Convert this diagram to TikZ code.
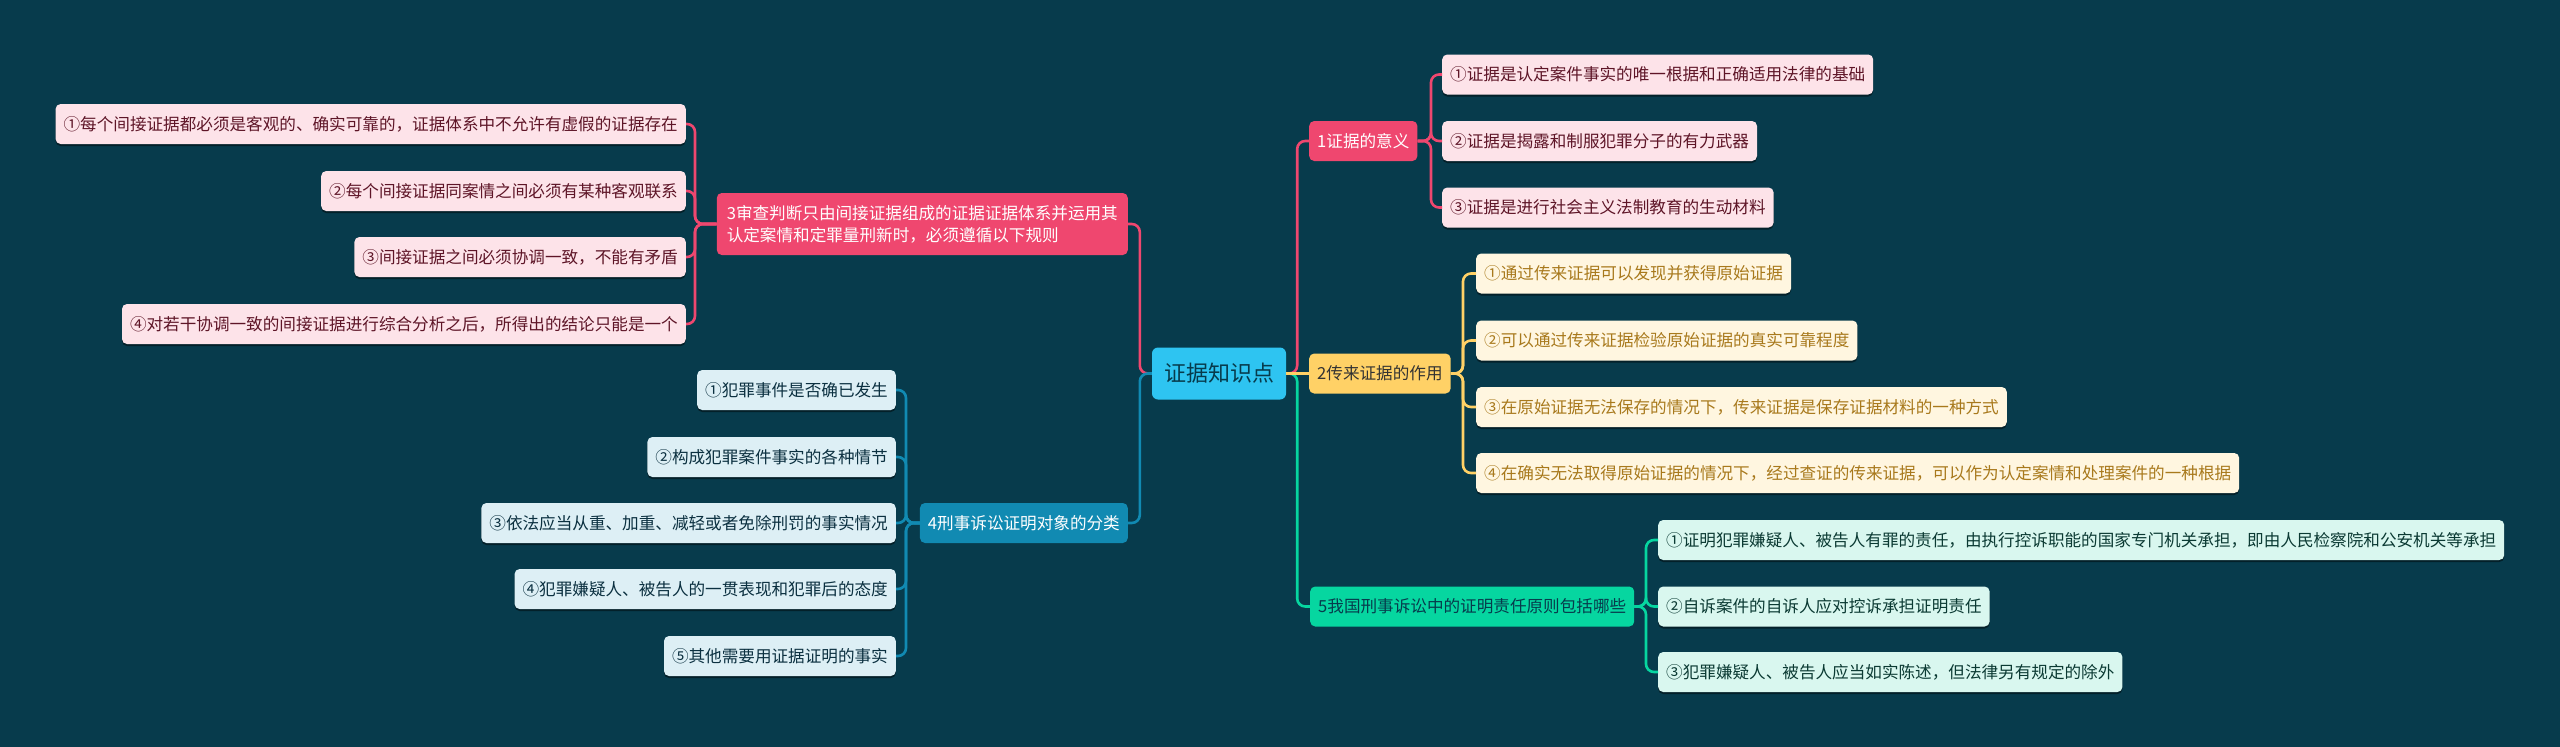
\documentclass[tikz,border=0pt]{standalone}
\usepackage{fontspec}
\setmainfont{Noto Sans CJK SC}
\usetikzlibrary{shadows}
\definecolor{bg}{HTML}{073B4C}
\definecolor{rootc}{HTML}{2EC4F1}
\definecolor{pinkc}{HTML}{EF476F}
\definecolor{yelc}{HTML}{FFD166}
\definecolor{grnc}{HTML}{06D6A0}
\definecolor{bluc}{HTML}{118AB2}
\definecolor{pinkl}{HTML}{FDE3E9}
\definecolor{yell}{HTML}{FFF6E0}
\definecolor{grnl}{HTML}{D9F7EF}
\definecolor{blul}{HTML}{DDEFF5}
\definecolor{pinkt}{HTML}{5E1527}
\definecolor{yelt}{HTML}{A8791C}
\definecolor{grnt}{HTML}{0B3A33}
\definecolor{blut}{HTML}{0B3040}
\tikzset{
  base/.style={rounded corners=5pt, minimum height=40pt, inner xsep=8pt, inner ysep=4pt,
    font=\fontsize{16.6}{22}\selectfont},
  rootbox/.style={rounded corners=6pt, fill=rootc, text=bg, minimum height=52pt, minimum width=134pt,
    font=\fontsize{22}{26}\selectfont},
  pinkbox/.style={base, fill=pinkc, text=white},
  yelbox/.style={base, fill=yelc, text=black!80},
  grnbox/.style={base, fill=grnc, text=bg},
  blubox/.style={base, fill=bluc, text=white},
  leafshadow/.style={drop shadow={shadow xshift=0pt, shadow yshift=-2pt, fill=black, opacity=0.45}},
  pinkleaf/.style={base, leafshadow, fill=pinkl, text=pinkt},
  yelleaf/.style={base, leafshadow, fill=yell, text=yelt},
  grnleaf/.style={base, leafshadow, fill=grnl, text=grnt},
  bluleaf/.style={base, leafshadow, fill=blul, text=blut},
  conn/.style={line width=2.6pt, rounded corners=8pt},
  pinkline/.style={conn, draw=pinkc},
  yelline/.style={conn, draw=yelc},
  grnline/.style={conn, draw=grnc},
  bluline/.style={conn, draw=bluc},
}
\begin{document}
\begin{tikzpicture}[x=1pt,y=-1pt]
\useasboundingbox (0,0) rectangle (2560,747);
\fill[bg] (0,0) rectangle (2560,747);

% root
\node[rootbox] (root) at (1219,373.5) {证据知识点};

% level 1
\node[pinkbox, anchor=west] (n1) at (1309,141) {1证据的意义};
\node[yelbox, anchor=west] (n2) at (1309,373.5) {2传来证据的作用};
\node[grnbox, anchor=west] (n5) at (1310,606.5) {5我国刑事诉讼中的证明责任原则包括哪些};
\node[pinkbox, anchor=east, align=left, minimum height=62pt, inner xsep=10pt] (n3) at (1128,224) {3审查判断只由间接证据组成的证据证据体系并运用其\\认定案情和定罪量刑新时，必须遵循以下规则};
\node[blubox, anchor=east] (n4) at (1128,523) {4刑事诉讼证明对象的分类};

% leaves of 1
\node[pinkleaf, anchor=west] (n11) at (1442,74.5) {①证据是认定案件事实的唯一根据和正确适用法律的基础};
\node[pinkleaf, anchor=west] (n12) at (1442,141) {②证据是揭露和制服犯罪分子的有力武器};
\node[pinkleaf, anchor=west] (n13) at (1442,207.5) {③证据是进行社会主义法制教育的生动材料};

% leaves of 2
\node[yelleaf, anchor=west] (n21) at (1476,273.5) {①通过传来证据可以发现并获得原始证据};
\node[yelleaf, anchor=west] (n22) at (1476,340.5) {②可以通过传来证据检验原始证据的真实可靠程度};
\node[yelleaf, anchor=west] (n23) at (1476,407) {③在原始证据无法保存的情况下，传来证据是保存证据材料的一种方式};
\node[yelleaf, anchor=west] (n24) at (1476,473) {④在确实无法取得原始证据的情况下，经过查证的传来证据，可以作为认定案情和处理案件的一种根据};

% leaves of 5
\node[grnleaf, anchor=west] (n51) at (1658,540) {①证明犯罪嫌疑人、被告人有罪的责任，由执行控诉职能的国家专门机关承担，即由人民检察院和公安机关等承担};
\node[grnleaf, anchor=west] (n52) at (1658,606.5) {②自诉案件的自诉人应对控诉承担证明责任};
\node[grnleaf, anchor=west] (n53) at (1658,672) {③犯罪嫌疑人、被告人应当如实陈述，但法律另有规定的除外};

% leaves of 3
\node[pinkleaf, anchor=east] (n31) at (686,124) {①每个间接证据都必须是客观的、确实可靠的，证据体系中不允许有虚假的证据存在};
\node[pinkleaf, anchor=east] (n32) at (686,191) {②每个间接证据同案情之间必须有某种客观联系};
\node[pinkleaf, anchor=east] (n33) at (686,257) {③间接证据之间必须协调一致，不能有矛盾};
\node[pinkleaf, anchor=east] (n34) at (686,324) {④对若干协调一致的间接证据进行综合分析之后，所得出的结论只能是一个};

% leaves of 4
\node[bluleaf, anchor=east] (n41) at (896,390) {①犯罪事件是否确已发生};
\node[bluleaf, anchor=east] (n42) at (896,457) {②构成犯罪案件事实的各种情节};
\node[bluleaf, anchor=east] (n43) at (896,523) {③依法应当从重、加重、减轻或者免除刑罚的事实情况};
\node[bluleaf, anchor=east] (n44) at (896,589) {④犯罪嫌疑人、被告人的一贯表现和犯罪后的态度};
\node[bluleaf, anchor=east] (n45) at (896,656) {⑤其他需要用证据证明的事实};

% root connectors
\draw[pinkline] (root.west) -- ([xshift=-12pt]root.west) |- (n3.east);
\draw[bluline] (root.west) -- ([xshift=-12pt]root.west) |- (n4.east);
\draw[pinkline] (root.east) -- ([xshift=11pt]root.east) |- (n1.west);
\draw[grnline] (root.east) -- ([xshift=11pt]root.east) |- (n5.west);
\draw[yelline] (root.east) -- (n2.west);

% level-1 to leaves
\foreach \c in {n11,n12,n13}
  \draw[pinkline] (n1.east) -- ([xshift=-11pt]\c.west |- n1.east) |- (\c.west);
\foreach \c in {n21,n22,n23,n24}
  \draw[yelline] (n2.east) -- ([xshift=-13pt]\c.west |- n2.east) |- (\c.west);
\foreach \c in {n51,n52,n53}
  \draw[grnline] (n5.east) -- ([xshift=-12pt]\c.west |- n5.east) |- (\c.west);
\foreach \c in {n31,n32,n33,n34}
  \draw[pinkline] (n3.west) -- ([xshift=9pt]\c.east |- n3.west) |- (\c.east);
\foreach \c in {n41,n42,n43,n44,n45}
  \draw[bluline] (n4.west) -- ([xshift=10pt]\c.east |- n4.west) |- (\c.east);
\end{tikzpicture}
\end{document}
